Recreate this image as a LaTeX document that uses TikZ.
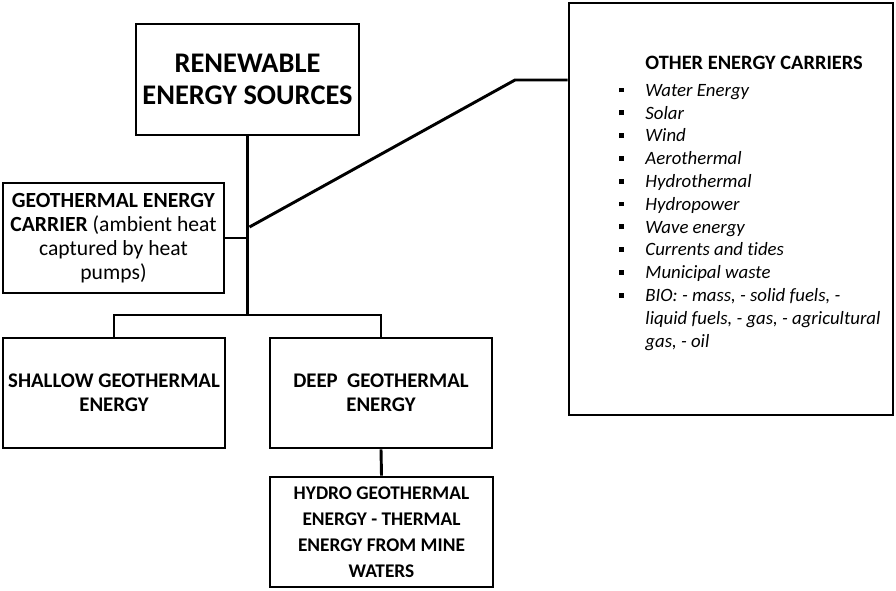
\documentclass[tikz,border=0pt]{standalone}
\usepackage{fontspec}
\setmainfont{Carlito}[Ligatures=NoCommon]
\usetikzlibrary{positioning}
\tikzset{every picture/.style={line width=2.2pt}}
\tikzset{boxsize/.style 2 args={minimum width=#1*0.75pt, minimum height=#2*0.75pt}}
\newcommand{\sqbul}{\makebox[21pt][l]{\hspace{1pt}\rule[0.2em]{3.6pt}{3.6pt}}}

\begin{document}
\begin{tikzpicture}[x=0.75pt,y=0.75pt,yscale=-1,xscale=1,
  box/.style={draw, inner sep=0pt, align=center},
  big/.style={font=\fontsize{21.3}{24}\selectfont\bfseries},
  mid/.style={font=\fontsize{16.2}{18}\selectfont},
  caps/.style={font=\fontsize{15.6}{18}\selectfont\bfseries},
  link/.style={line width=2.2pt}]
\path[use as bounding box] (0,0) rectangle (896,591);

% Boxes
\node[box, big, boxsize={223}{111}] (res) at (247.5,79.5) {RENEWABLE\\ENERGY SOURCES};
\node[box, mid, boxsize={221}{110}] (geo) at (113.5,238) {\textbf{GEOTHERMAL ENERGY}\\\textbf{CARRIER} (ambient heat\\captured by heat\\pumps)};
\node[box, caps, boxsize={222}{110}] (shallow) at (114,393) {SHALLOW GEOTHERMAL\\ENERGY};
\node[box, caps, boxsize={222}{110}] (deep) at (381,393) {DEEP\ \ GEOTHERMAL\\ENERGY};
\node[box, font=\fontsize{14.5}{19.5}\selectfont\bfseries, boxsize={223}{110}] (hydro) at (381.5,532) {HYDRO GEOTHERMAL\\ENERGY - THERMAL\\ENERGY FROM MINE\\WATERS};
\node[box, boxsize={324}{412}] (other) at (731,209) {};

% List text
\node[anchor=north west, inner sep=0pt, font=\fontsize{14.1}{17.1}\selectfont] (otherlist) at (616,52) {%
\begin{tabular}{@{}l@{}l@{}}
 & {\fontsize{15.3}{17.1}\selectfont\textbf{OTHER ENERGY CARRIERS}}\\[3pt]
\sqbul & \textit{Water Energy}\\
\sqbul & \textit{Solar}\\
\sqbul & \textit{Wind}\\
\sqbul & \textit{Aerothermal}\\
\sqbul & \textit{Hydrothermal}\\
\sqbul & \textit{Hydropower}\\
\sqbul & \textit{Wave energy}\\
\sqbul & \textit{Currents and tides}\\
\sqbul & \textit{Municipal waste}\\
\sqbul & \textit{BIO: - mass, - solid fuels, -}\\
 & \textit{liquid fuels, - gas, - agricultural}\\
 & \textit{gas, - oil}
\end{tabular}};

% Connectors
\coordinate (split) at (res.south |- 0,315);
\coordinate (tap) at ([xshift=1.5pt]res.south |- 0,227);
\coordinate (bend) at (515,80);
\draw[link] (res.south) -- (split);
\draw[link] (shallow.north) |- (split) -| (deep.north);
\draw[link] (geo.east) -- (geo.east -| res.south);
\draw[link] (deep.south) -- (hydro.north);
\draw[link] (tap) -- (bend) -- (bend -| other.west);

\end{tikzpicture}
\end{document}
